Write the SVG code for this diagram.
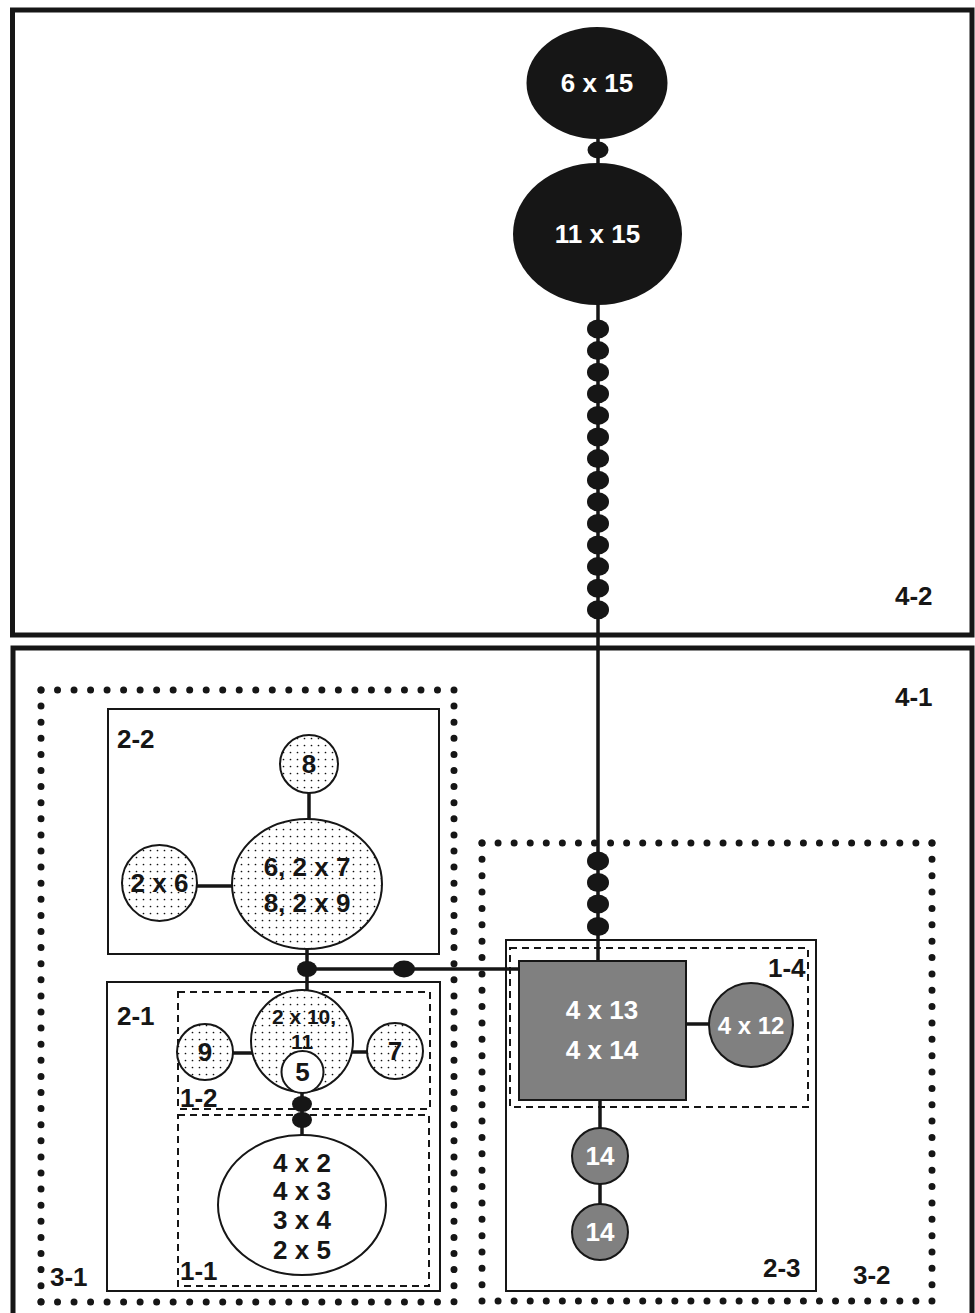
<svg xmlns="http://www.w3.org/2000/svg" width="975" height="1313" viewBox="0 0 975 1313">
<defs>
<pattern id="dots" width="7" height="7" patternUnits="userSpaceOnUse">
<rect width="7" height="7" fill="#fff"/>
<circle cx="3.5" cy="3.5" r="0.85" fill="#111"/>
</pattern>
<style>
text{font-family:"Liberation Sans",Arial,sans-serif;font-weight:bold;fill:#161616}
.lbl{font-size:26px}
.ctr{text-anchor:middle;font-size:26px}
.wt{fill:#fff}
.outer{fill:none;stroke:#161616;stroke-width:5}
.box{fill:none;stroke:#161616;stroke-width:2}
.dash{fill:none;stroke:#161616;stroke-width:2;stroke-dasharray:7 5}
.dot{stroke:#161616;stroke-width:7;stroke-linecap:round;fill:none}
.blk{fill:#161616}
.dotted{fill:url(#dots);stroke:#161616;stroke-width:2}
.wht{fill:#fff;stroke:#161616;stroke-width:2}
.gry{fill:#808080;stroke:#161616;stroke-width:2}
.ln{stroke:#161616;stroke-width:3.5;fill:none}
</style>
</defs>

<g id="container-4-2">
<rect class="outer" x="12.5" y="10" width="959.5" height="625"/>
<text class="lbl" x="895" y="605">4-2</text>
</g>
<g id="container-4-1">
<rect class="outer" x="13" y="648" width="959" height="700"/>
<text class="lbl" x="895" y="706">4-1</text>
</g>
<g id="container-3-1">
<line class="dot" x1="41" y1="690" x2="454" y2="690" stroke-dasharray="0 16.52"/>
<line class="dot" x1="454" y1="690" x2="454" y2="1302" stroke-dasharray="0 16.1"/>
<line class="dot" x1="41" y1="1302" x2="454" y2="1302" stroke-dasharray="0 16.52"/>
<line class="dot" x1="41" y1="690" x2="41" y2="1302" stroke-dasharray="0 16.1"/>
<text class="lbl" x="50" y="1286">3-1</text>
</g>
<g id="container-3-2">
<line class="dot" x1="482" y1="843" x2="932" y2="843" stroke-dasharray="0 16.07"/>
<line class="dot" x1="932" y1="843" x2="932" y2="1301" stroke-dasharray="0 16.36"/>
<line class="dot" x1="482" y1="1301" x2="932" y2="1301" stroke-dasharray="0 16.07"/>
<line class="dot" x1="482" y1="843" x2="482" y2="1301" stroke-dasharray="0 16.36"/>
<text class="lbl" x="853" y="1284">3-2</text>
</g>
<g id="container-2-2">
<rect class="box" x="108" y="709" width="331" height="245"/>
<text class="lbl" x="117" y="748">2-2</text>
</g>
<g id="container-2-1">
<rect class="box" x="107" y="982" width="333" height="309"/>
<text class="lbl" x="117" y="1025">2-1</text>
</g>
<g id="container-1-2">
<rect class="dash" x="178" y="992" width="252" height="117"/>
<text class="lbl" x="180" y="1107">1-2</text>
</g>
<g id="container-1-1">
<rect class="dash" x="178" y="1115" width="251" height="171"/>
<text class="lbl" x="180" y="1280">1-1</text>
</g>
<g id="container-2-3">
<rect class="box" x="506" y="940" width="310" height="351"/>
<text class="lbl" x="763" y="1277">2-3</text>
</g>
<g id="container-1-4">
<rect class="dash" x="510" y="948" width="298" height="159"/>
<text class="lbl" x="768" y="977">1-4</text>
</g>

<g id="connectors">
<line class="ln" x1="598" y1="135" x2="598" y2="166"/>
<ellipse class="blk" cx="598" cy="150" rx="10.5" ry="8.5"/>
<line class="ln" x1="598" y1="300" x2="598" y2="962"/>
<ellipse class="blk" cx="598" cy="329" rx="11" ry="9.5"/>
<ellipse class="blk" cx="598" cy="350.6" rx="11" ry="9.5"/>
<ellipse class="blk" cx="598" cy="372.2" rx="11" ry="9.5"/>
<ellipse class="blk" cx="598" cy="393.8" rx="11" ry="9.5"/>
<ellipse class="blk" cx="598" cy="415.4" rx="11" ry="9.5"/>
<ellipse class="blk" cx="598" cy="437" rx="11" ry="9.5"/>
<ellipse class="blk" cx="598" cy="458.6" rx="11" ry="9.5"/>
<ellipse class="blk" cx="598" cy="480.2" rx="11" ry="9.5"/>
<ellipse class="blk" cx="598" cy="501.8" rx="11" ry="9.5"/>
<ellipse class="blk" cx="598" cy="523.4" rx="11" ry="9.5"/>
<ellipse class="blk" cx="598" cy="545" rx="11" ry="9.5"/>
<ellipse class="blk" cx="598" cy="566.6" rx="11" ry="9.5"/>
<ellipse class="blk" cx="598" cy="588.2" rx="11" ry="9.5"/>
<ellipse class="blk" cx="598" cy="609.8" rx="11" ry="9.5"/>
<ellipse class="blk" cx="598" cy="861" rx="11" ry="9.5"/>
<ellipse class="blk" cx="598" cy="882.5" rx="11" ry="9.5"/>
<ellipse class="blk" cx="598" cy="904" rx="11" ry="9.5"/>
<ellipse class="blk" cx="598" cy="926.5" rx="11" ry="9.5"/>
<line class="ln" x1="309" y1="792" x2="309" y2="820"/>
<line class="ln" x1="196" y1="886" x2="233" y2="886"/>
<line class="ln" x1="307" y1="947" x2="307" y2="992"/>
<line class="ln" x1="307" y1="969" x2="520" y2="969"/>
<ellipse class="blk" cx="307" cy="969" rx="10" ry="8"/>
<ellipse class="blk" cx="404" cy="969" rx="11" ry="8.5"/>
<line class="ln" x1="232" y1="1053" x2="252" y2="1053"/>
<line class="ln" x1="352" y1="1052" x2="368" y2="1052"/>
<line class="ln" x1="302" y1="1092" x2="302" y2="1136"/>
<ellipse class="blk" cx="302" cy="1104" rx="10" ry="8"/>
<ellipse class="blk" cx="302" cy="1120" rx="10" ry="8"/>
<line class="ln" x1="686" y1="1024" x2="710" y2="1024"/>
<line class="ln" x1="600" y1="1099" x2="600" y2="1130"/>
<line class="ln" x1="600" y1="1182" x2="600" y2="1206"/>
</g>

<g id="node-6x15">
<ellipse class="blk" cx="597" cy="83" rx="70.5" ry="56"/>
<text class="ctr wt" x="597" y="92">6 x 15</text>
</g>
<g id="node-11x15">
<ellipse class="blk" cx="597.5" cy="234" rx="84.5" ry="71"/>
<text class="ctr wt" x="597.5" y="243">11 x 15</text>
</g>
<g id="node-8">
<circle class="dotted" cx="309" cy="764" r="29"/>
<text class="ctr" x="309" y="773">8</text>
</g>
<g id="node-2x6">
<ellipse class="dotted" cx="159.5" cy="883" rx="37.5" ry="38"/>
<text class="ctr" x="159.5" y="892">2 x 6</text>
</g>
<g id="node-6-2x7-8-2x9">
<ellipse class="dotted" cx="307" cy="884" rx="75" ry="65"/>
<text class="ctr" x="307" y="876">6, 2 x 7</text>
<text class="ctr" x="307" y="912">8, 2 x 9</text>
</g>
<g id="node-2x10-11">
<circle class="dotted" cx="302" cy="1041" r="51"/>
<text class="ctr" x="304" y="1024" style="font-size:21px">2 x 10,</text>
<text class="ctr" x="302" y="1049" style="font-size:21px">11</text>
</g>
<g id="node-5">
<circle class="wht" cx="302.5" cy="1072" r="21"/>
<text class="ctr" x="302.5" y="1081">5</text>
</g>
<g id="node-9">
<circle class="dotted" cx="205" cy="1052" r="28"/>
<text class="ctr" x="205" y="1061">9</text>
</g>
<g id="node-7">
<circle class="dotted" cx="395" cy="1051" r="28"/>
<text class="ctr" x="395" y="1060">7</text>
</g>
<g id="node-4x2">
<ellipse class="wht" cx="302" cy="1205" rx="84" ry="70"/>
<text class="ctr" x="302" y="1172">4 x 2</text>
<text class="ctr" x="302" y="1200">4 x 3</text>
<text class="ctr" x="302" y="1229">3 x 4</text>
<text class="ctr" x="302" y="1259">2 x 5</text>
</g>
<g id="node-4x13">
<rect class="gry" x="519" y="961" width="167" height="139"/>
<text class="ctr wt" x="602" y="1019">4 x 13</text>
<text class="ctr wt" x="602" y="1059">4 x 14</text>
</g>
<g id="node-4x12">
<circle class="gry" cx="751" cy="1025" r="42"/>
<text class="ctr wt" x="751" y="1034" style="font-size:24px">4 x 12</text>
</g>
<g id="node-14a">
<circle class="gry" cx="600" cy="1156" r="28"/>
<text class="ctr wt" x="600" y="1165">14</text>
</g>
<g id="node-14b">
<circle class="gry" cx="600" cy="1232" r="28"/>
<text class="ctr wt" x="600" y="1241">14</text>
</g>
</svg>
